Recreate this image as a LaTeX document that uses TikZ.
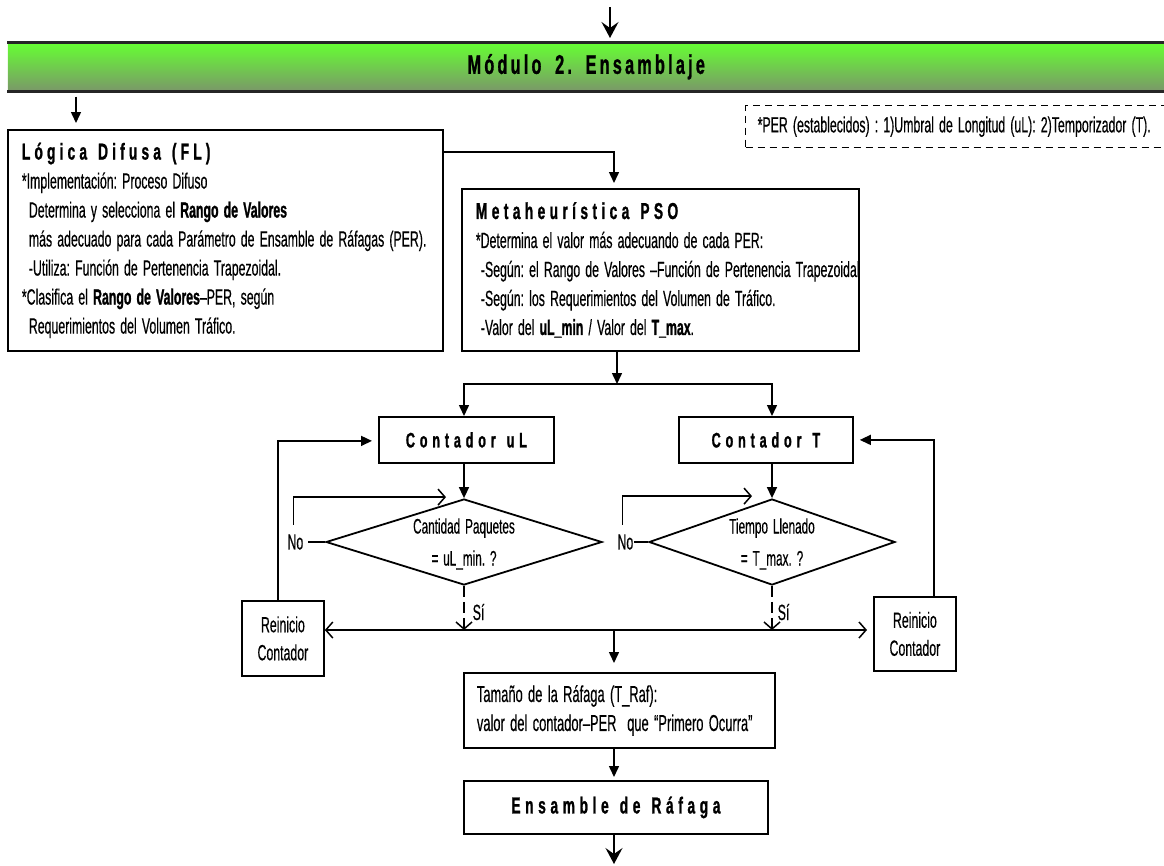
\documentclass[tikz,border=0pt]{standalone}
\usepackage{fontspec}
\setmainfont{Liberation Sans}[FakeStretch=0.56, WordSpace=1.5,
  UprightFeatures={FakeBold=0.4}, BoldFeatures={FakeBold=1.1}]
\newfontfamily\headfont{Liberation Sans}[FakeStretch=0.6, BoldFeatures={FakeBold=1}]
\usetikzlibrary{arrows.meta,calc,shapes.geometric}
\frenchspacing

% letter-spaced bold heading: size, spacing, text
\newcommand\spaced[3]{{\headfont\fontsize{#1}{29}\selectfont\bfseries\addfontfeature{LetterSpace=#2}#3}}
\newcommand\gap{\hspace{11pt}}
% keep the font's own word spacing inside left-aligned blocks
\newcommand\natsp{\spaceskip=0pt\xspaceskip=0pt\relax}

\begin{document}
\begin{tikzpicture}[x=1pt,y=-1pt,
  line width=1.5pt,
  every node/.style={inner sep=0pt, font=\fontsize{22}{29}\selectfont},
  block/.style={draw, line width=1.8pt, anchor=north west, fill=white},
  textblock/.style={block, align=left, inner xsep=14pt},
  decision/.style={draw, diamond, line width=1.8pt},
  tri/.style={-{Triangle[length=11pt,width=10pt]}},
  barb/.style={-{Straight Barb[length=7pt,width=16pt]}},
  big/.style={-{Stealth[length=16pt,width=17pt,inset=6pt]}},
  note/.style={draw, dash pattern=on 7pt off 5pt, line width=1.4pt, anchor=north west, align=left, inner xsep=12pt}
]
\useasboundingbox (0,0) rectangle (1164,865);

% ---- module banner ----
\node[anchor=north west, minimum width=1157pt, minimum height=48pt,
      top color={rgb,255:red,102;green,255;blue,51}, bottom color={rgb,255:red,122;green,152;blue,104}]
      (banner) at (7,42) {\spaced{27}{12}{Módulo\hspace{6pt} 2.\hspace{6pt} Ensamblaje}};
\draw[line width=3pt, black!85] (banner.north west) -- (banner.north east);
\draw[line width=3pt, black!85] (banner.south west) -- (banner.south east);

\coordinate (in) at (610,7);
\draw[big, shorten >=4pt] (in) -- (in |- banner.north);

% ---- note on the assembly parameters ----
\node[note, minimum width=430pt, minimum height=42pt, text width=406pt] (per) at (745,105)
  {\natsp *PER (establecidos) : 1)Umbral de Longitud (uL): 2)Temporizador (T).};

% ---- fuzzy logic block ----
\node[textblock, minimum width=435pt, minimum height=221pt, text width=407pt] (fl) at (7,129)
  {\natsp\spaced{23}{18}{Lógica\gap Difusa\gap (FL)}\\
   {*}Implementación: Proceso Difuso\\
   \hspace*{7pt}Determina y selecciona el \textbf{Rango de Valores}\\
   \hspace*{7pt}más adecuado para cada Parámetro de Ensamble de Ráfagas (PER).\\
   \hspace*{7pt}-Utiliza: Función de Pertenencia Trapezoidal.\\
   {*}Clasifica el \textbf{Rango de Valores}–PER, según\\
   \hspace*{7pt}Requerimientos del Volumen Tráfico.};

% ---- PSO block ----
\node[textblock, minimum width=397pt, minimum height=162pt, text width=369pt] (pso) at (461,188)
  {\natsp\spaced{23}{19}{Metaheurística\gap PSO}\\
   {*}Determina el valor más adecuando de cada PER:\\
   \hspace*{5pt}\mbox{-Según: el Rango de Valores –Función de Pertenencia Trapezoidal}\\
   \hspace*{5pt}-Según: los Requerimientos del Volumen de Tráfico.\\
   \hspace*{5pt}-Valor del \textbf{uL\_min} / Valor del \textbf{T\_max}.};

% ---- counters ----
\node[block, minimum width=175pt, minimum height=46pt] (cu) at (378,416) {\spaced{21}{23}{Contador\gap uL}};
\node[block, minimum width=174pt, minimum height=46pt] (ct) at (678,416) {\spaced{21}{23}{Contador\gap T}};

% ---- decisions ----
\node[decision, minimum width=276pt, minimum height=86pt] (d1) at (464,542) {};
\node[align=center, font=\fontsize{21}{32}\selectfont] (d1t) at (464,544) {Cantidad Paquetes\\= uL\_min. ?};
\node[decision, minimum width=246pt, minimum height=86pt] (d2) at (772,542) {};
\node[align=center, font=\fontsize{21}{32}\selectfont] (d2t) at (772,544) {Tiempo Llenado\\= T\_max. ?};

\node[anchor=east] (no1) at (304,542) {No};
\node[anchor=east] (no2) at (634,542) {No};
\node[anchor=west] (si1) at (472,612) {Sí};
\node[anchor=west] (si2) at (777,612) {Sí};

% ---- reset boxes ----
\node[block, align=center, minimum width=82pt, minimum height=75pt, font=\fontsize{22}{28}\selectfont] (rl) at (241,600) {Reinicio\\Contador};
\node[block, align=center, minimum width=82pt, minimum height=74pt, font=\fontsize{22}{28}\selectfont] (rr) at (873,596) {Reinicio\\Contador};

% ---- burst size and assembly ----
\node[textblock, minimum width=303pt, minimum height=75pt, text width=285pt, inner xsep=13pt] (traf) at (463,672)
  {\natsp\fontsize{23}{29}\selectfont Tamaño de la Ráfaga (T\_Raf):\\
   valor del contador–PER\ \ que “Primero Ocurra”};
\node[block, minimum width=304pt, minimum height=53pt] (ens) at (463,780) {\spaced{23}{20}{Ensamble\gap de\gap Ráfaga}};

% ---- connectors ----
\draw[tri, shorten >=6pt] ($(banner.south west)+(69,5)$) -- ($(fl.north west)+(69,0)$);
\draw[tri, shorten >=5pt] ($(fl.north east)+(0,23)$) -| ($(pso.north west)+(153,0)$);

\coordinate (sp) at (617,384);
\draw[tri] ($(pso.south west)+(156,0)$) -- (sp);
\draw[tri] (sp) -| (d1.north |- cu.north);
\draw[tri] (sp) -| (d2.north |- ct.north);

\draw[tri] (d1.north |- cu.south) -- (d1.north);
\draw[tri] (d2.north |- ct.south) -- (d2.north);

% "No" branches loop back to the decision
\draw ([xshift=4pt]no1.east) -- (d1.west);
\draw[barb] ([xshift=-2pt,yshift=9pt]no1.north) |- ($(d1.north)+(-18,-1)$);
\draw (no2.east) -- (d2.west);
\draw[barb] ([xshift=-3pt,yshift=9pt]no2.north) |- ($(d2.north)+(-20,-2)$);

% "Sí" branches reach the common line
\coordinate (jn) at (614,630);
\draw[barb, dash pattern=on 11pt off 5pt] (d1.south) -- (d1.south |- jn);
\draw[barb, dash pattern=on 11pt off 5pt] (d2.south) -- (d2.south |- jn);
\draw[{Straight Barb[length=7pt,width=16pt]}-{Straight Barb[length=7pt,width=16pt]}, shorten >=6pt]
  (rl.east |- jn) -- (rr.west |- jn);

% counters restart
\draw[tri, shorten >=6pt] ([xshift=-5pt]rl.north) |- ([yshift=-1pt]cu.west);
\draw[tri, shorten >=6pt] ([xshift=19pt]rr.north) |- (ct.east);

\draw[tri, shorten >=9pt] (jn) -- (traf.north -| jn);
\draw[tri, shorten >=3pt] (traf.south -| jn) -- (ens.north -| jn);
\coordinate (out) at (614,864);
\draw[big] (ens.south -| out) -- (out);
\end{tikzpicture}
\end{document}
